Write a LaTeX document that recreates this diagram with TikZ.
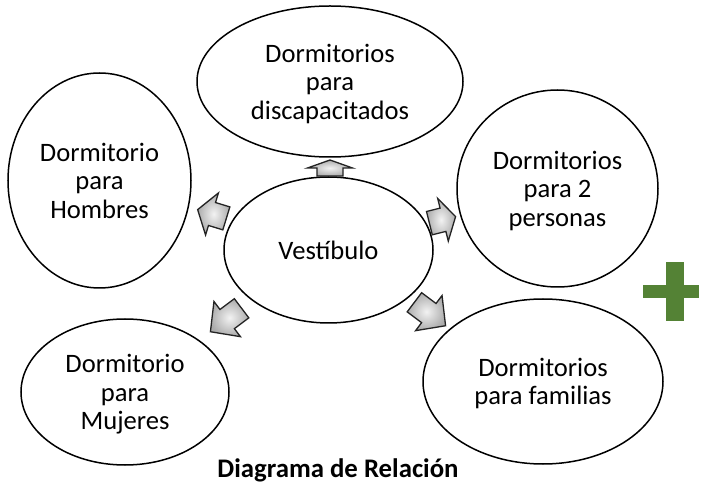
\documentclass[tikz,border=0pt]{standalone}
\usepackage{fontspec}
\setmainfont{Carlito}
\usetikzlibrary{shapes.geometric}
\definecolor{plusgreen}{RGB}{84,130,53}
\definecolor{arrowedge}{RGB}{35,35,35}
\begin{document}
\begin{tikzpicture}[x=1pt,y=-1pt,
  room/.style={draw=black, line width=1.5pt, ellipse, inner sep=0pt, align=center,
    text depth=0pt, font=\fontsize{26.6}{28.6}\selectfont},
  blockarr/.style={draw=arrowedge, line width=1.3pt, line join=miter,
    shading=radial, inner color=gray!10, outer color=gray!65},
  titletext/.style={font=\bfseries\fontsize{26.8}{30}\selectfont, inner sep=0pt, anchor=base}
]
\useasboundingbox (0,0) rectangle (702,486);

% rooms
\node[room, minimum width=209pt, minimum height=146pt] (vest) at (328.5,250) {Vestíbulo};
\node[room, minimum width=266pt, minimum height=151pt] (disc) at (330,81.5) {Dormitorios\\para\\discapacitados};
\node[room, minimum width=183pt, minimum height=215pt] (homb) at (99.5,180.5) {Dormitorio\\para\\Hombres};
\node[room, minimum width=201pt, minimum height=197pt] (pers) at (557.5,188.5) {Dormitorios\\para 2\\personas};
\node[room, minimum width=208pt, minimum height=146pt] (muj) at (125,392) {Dormitorio\\para\\Mujeres};
\node[room, minimum width=240pt, minimum height=165pt] (fam) at (543,381.5) {Dormitorios\\para familias};

% block arrows from the hall outwards
\draw[blockarr, shift={(330,168)}, rotate=90]
  (-8,-13) -- (0,-13) -- (0,-22.5) -- (8,0) -- (0,22.5) -- (0,13) -- (-8,13) -- cycle;
\draw[blockarr, shift={(212,214)}, rotate=163]
  (-15,-12) -- (0,-12) -- (0,-22) -- (15,0) -- (0,22) -- (0,12) -- (-15,12) -- cycle;
\draw[blockarr, shift={(442,220)}, rotate=14]
  (-13,-12) -- (1,-12) -- (1,-22) -- (14,0) -- (1,22) -- (1,12) -- (-13,12) -- cycle;
\draw[blockarr, shift={(226,320)}, rotate=217]
  (-19.5,-12) -- (-1.5,-12) -- (-1.5,-22) -- (19.5,0) -- (-1.5,22) -- (-1.5,12) -- (-19.5,12) -- cycle;
\draw[blockarr, shift={(430,314)}, rotate=-37]
  (-19.5,-12) -- (-1.5,-12) -- (-1.5,-22) -- (19.5,0) -- (-1.5,22) -- (-1.5,12) -- (-19.5,12) -- cycle;

% green plus sign
\fill[plusgreen] (643,285) rectangle (699,298);
\fill[plusgreen] (666,262) rectangle (684,321);

% title
\node[titletext] (title) at (338,478) {Diagrama de Relación};
\end{tikzpicture}
\end{document}
